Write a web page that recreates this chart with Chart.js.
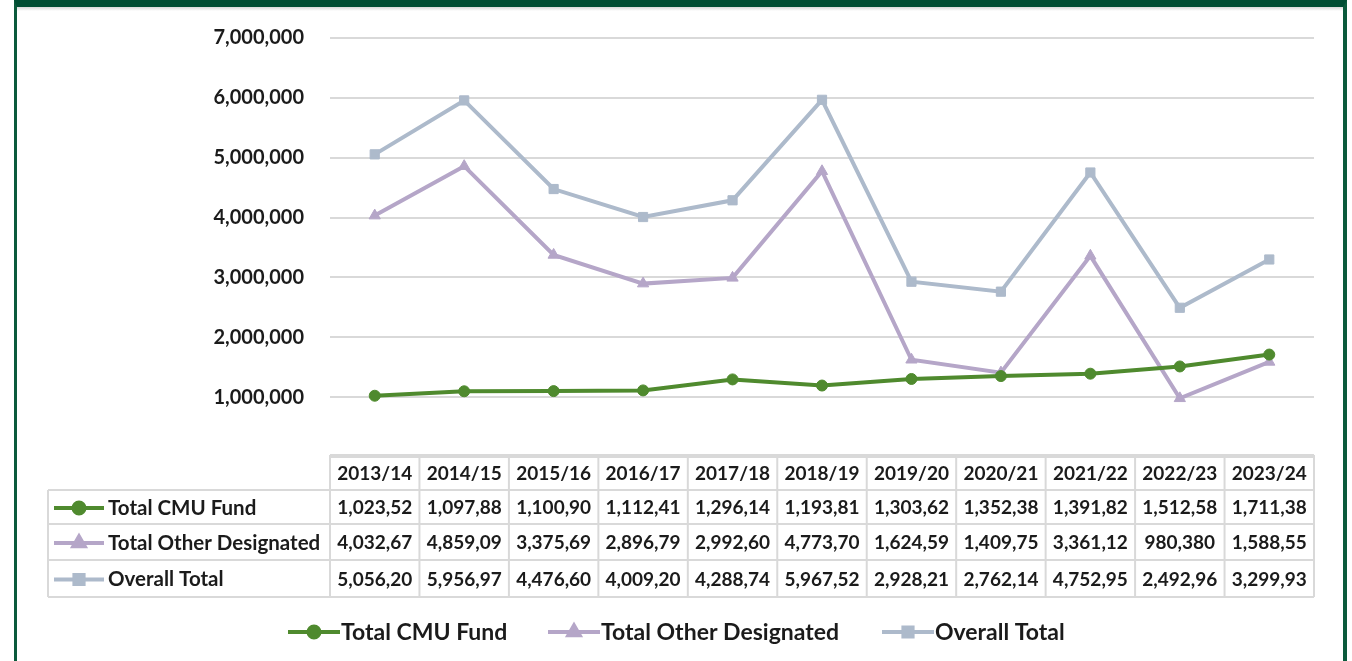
<!DOCTYPE html>
<html>
<head>
<meta charset="utf-8">
<script src="https://cdn.jsdelivr.net/npm/chart.js@4.4.1/dist/chart.umd.min.js"></script>
<style>
  body{margin:0;background:#fff;}
  #wrap{position:relative;width:1352px;height:661px;overflow:hidden;}
  #frame{position:absolute;left:14px;top:0;width:1333px;height:670px;box-sizing:border-box;
    border-left:3px solid #0b5a3c;border-right:4px solid #0b5a3c;border-top:7px solid #004d33;pointer-events:none;}
  #shade{position:absolute;left:17px;top:7px;width:1326px;height:4px;background:linear-gradient(#d8d8d8,#fff);pointer-events:none;}
</style>
</head>
<body>
<div id="wrap">
  <canvas id="grafico" width="1352" height="661"></canvas>
  <div id="shade"></div>
  <div id="frame"></div>
</div>
<script>
// data (table cells are truncated in the original)
const categories = ['2013/14','2014/15','2015/16','2016/17','2017/18','2018/19','2019/20','2020/21','2021/22','2022/23','2023/24'];
const cmuFund = [1023520,1097880,1100900,1112410,1296140,1193810,1303620,1352380,1391820,1512580,1711380];
const otherDesignated = [4032670,4859090,3375690,2896790,2992600,4773700,1624590,1409750,3361120,980380,1588550];
const overallTotal = [5056200,5956970,4476600,4009200,4288740,5967520,2928210,2762140,4752950,2492960,3299930];
const yMax = 7000000;
const yStep = 1000000;

const FONT = 'Lato';
const series = [
  {name:'Total CMU Fund', values:cmuFund, color:'#4f8a2e', style:'circle', radius:5.5},
  {name:'Total Other Designated', values:otherDesignated, color:'#b5a6c8', style:'triangle', radius:6.5},
  {name:'Overall Total', values:overallTotal, color:'#adbacb', style:'rect', radius:6.5}
];

// excel cuts the numbers off at 8 characters
const cellText = v => v.toLocaleString('en-US').slice(0, 8);

function drawSymbol(ctx, s, x, y, len){
  ctx.save();
  ctx.strokeStyle = s.color;
  ctx.lineWidth = 4;
  ctx.beginPath();
  ctx.moveTo(x, y);
  ctx.lineTo(x + len, y);
  ctx.stroke();
  ctx.fillStyle = s.color;
  ctx.strokeStyle = s.color;
  Chart.helpers.drawPoint(ctx, {pointStyle:s.style, radius:s.radius, borderWidth:1}, x + len/2, y);
  ctx.restore();
}

const tablaPlugin = {
  id:'tabla',
  afterDraw(chart){
    const ctx = chart.ctx;
    const x = chart.scales.x;
    const area = chart.chartArea;
    const colW = (area.right - area.left) / categories.length;
    const rows = [455, 490, 524, 560, 597];
    const left = 48;

    ctx.save();
    ctx.strokeStyle = '#d9d9d9';
    ctx.lineWidth = 2;
    // horizontal lines
    ctx.beginPath();
    ctx.moveTo(area.left, rows[0]); ctx.lineTo(area.right, rows[0]);
    for (let r = 1; r < rows.length; r++){
      ctx.moveTo(left, rows[r]); ctx.lineTo(area.right, rows[r]);
    }
    // vertical lines
    ctx.moveTo(left, rows[1]); ctx.lineTo(left, rows[4]);
    for (let i = 0; i <= categories.length; i++){
      const cx = area.left + i * colW;
      ctx.moveTo(cx, rows[0]); ctx.lineTo(cx, rows[4]);
    }
    ctx.stroke();

    ctx.fillStyle = '#1b1b1b';
    ctx.font = 'bold 19px ' + FONT;
    ctx.textBaseline = 'middle';
    ctx.textAlign = 'center';
    categories.forEach((c, i) => {
      ctx.fillText(c, x.getPixelForValue(i), (rows[0] + rows[1]) / 2 + 1);
    });
    series.forEach((s, r) => {
      const cy = (rows[r+1] + rows[r+2]) / 2 + 1;
      ctx.font = 'bold 19px ' + FONT;
      ctx.textAlign = 'center';
      s.values.forEach((v, i) => ctx.fillText(cellText(v), x.getPixelForValue(i), cy));
      drawSymbol(ctx, s, 54, cy, 50);
      ctx.fillStyle = '#1b1b1b';
      ctx.textAlign = 'left';
      ctx.font = 'bold 20.5px ' + FONT;
      ctx.fillText(s.name, 108, cy);
    });

    // legend under the table
    const legX = [288, 548, 882];
    ctx.font = 'bold 23px ' + FONT;
    series.forEach((s, i) => {
      drawSymbol(ctx, s, legX[i], 632, 52);
      ctx.fillStyle = '#1b1b1b';
      ctx.textAlign = 'left';
      ctx.fillText(s.name, legX[i] + 53, 633);
    });
    ctx.restore();
  }
};

new Chart(document.getElementById('grafico').getContext('2d'), {
  type:'line',
  data:{
    labels:categories,
    datasets:series.map(s => ({
      label:s.name,
      data:s.values,
      borderColor:s.color,
      backgroundColor:s.color,
      borderWidth:4,
      pointStyle:s.style,
      pointRadius:s.radius,
      pointBorderWidth:1,
      tension:0
    }))
  },
  options:{
    responsive:false,
    animation:false,
    layout:{padding:{left:0, top:33, right:38, bottom:204}},
    plugins:{legend:{display:false}, tooltip:{enabled:false}},
    scales:{
      x:{display:false, offset:true},
      y:{
        min:0, max:yMax,
        afterFit:scale => { scale.width = 330; },
        border:{display:false},
        grid:{color:'#d9d9d9', lineWidth:2, drawTicks:false},
        ticks:{
          stepSize:yStep,
          padding:26,
          color:'#1b1b1b',
          font:{family:FONT, size:20, weight:'bold'},
          callback:v => v === 0 ? '' : v.toLocaleString('en-US')
        }
      }
    }
  },
  plugins:[tablaPlugin]
});
</script>
</body>
</html>
